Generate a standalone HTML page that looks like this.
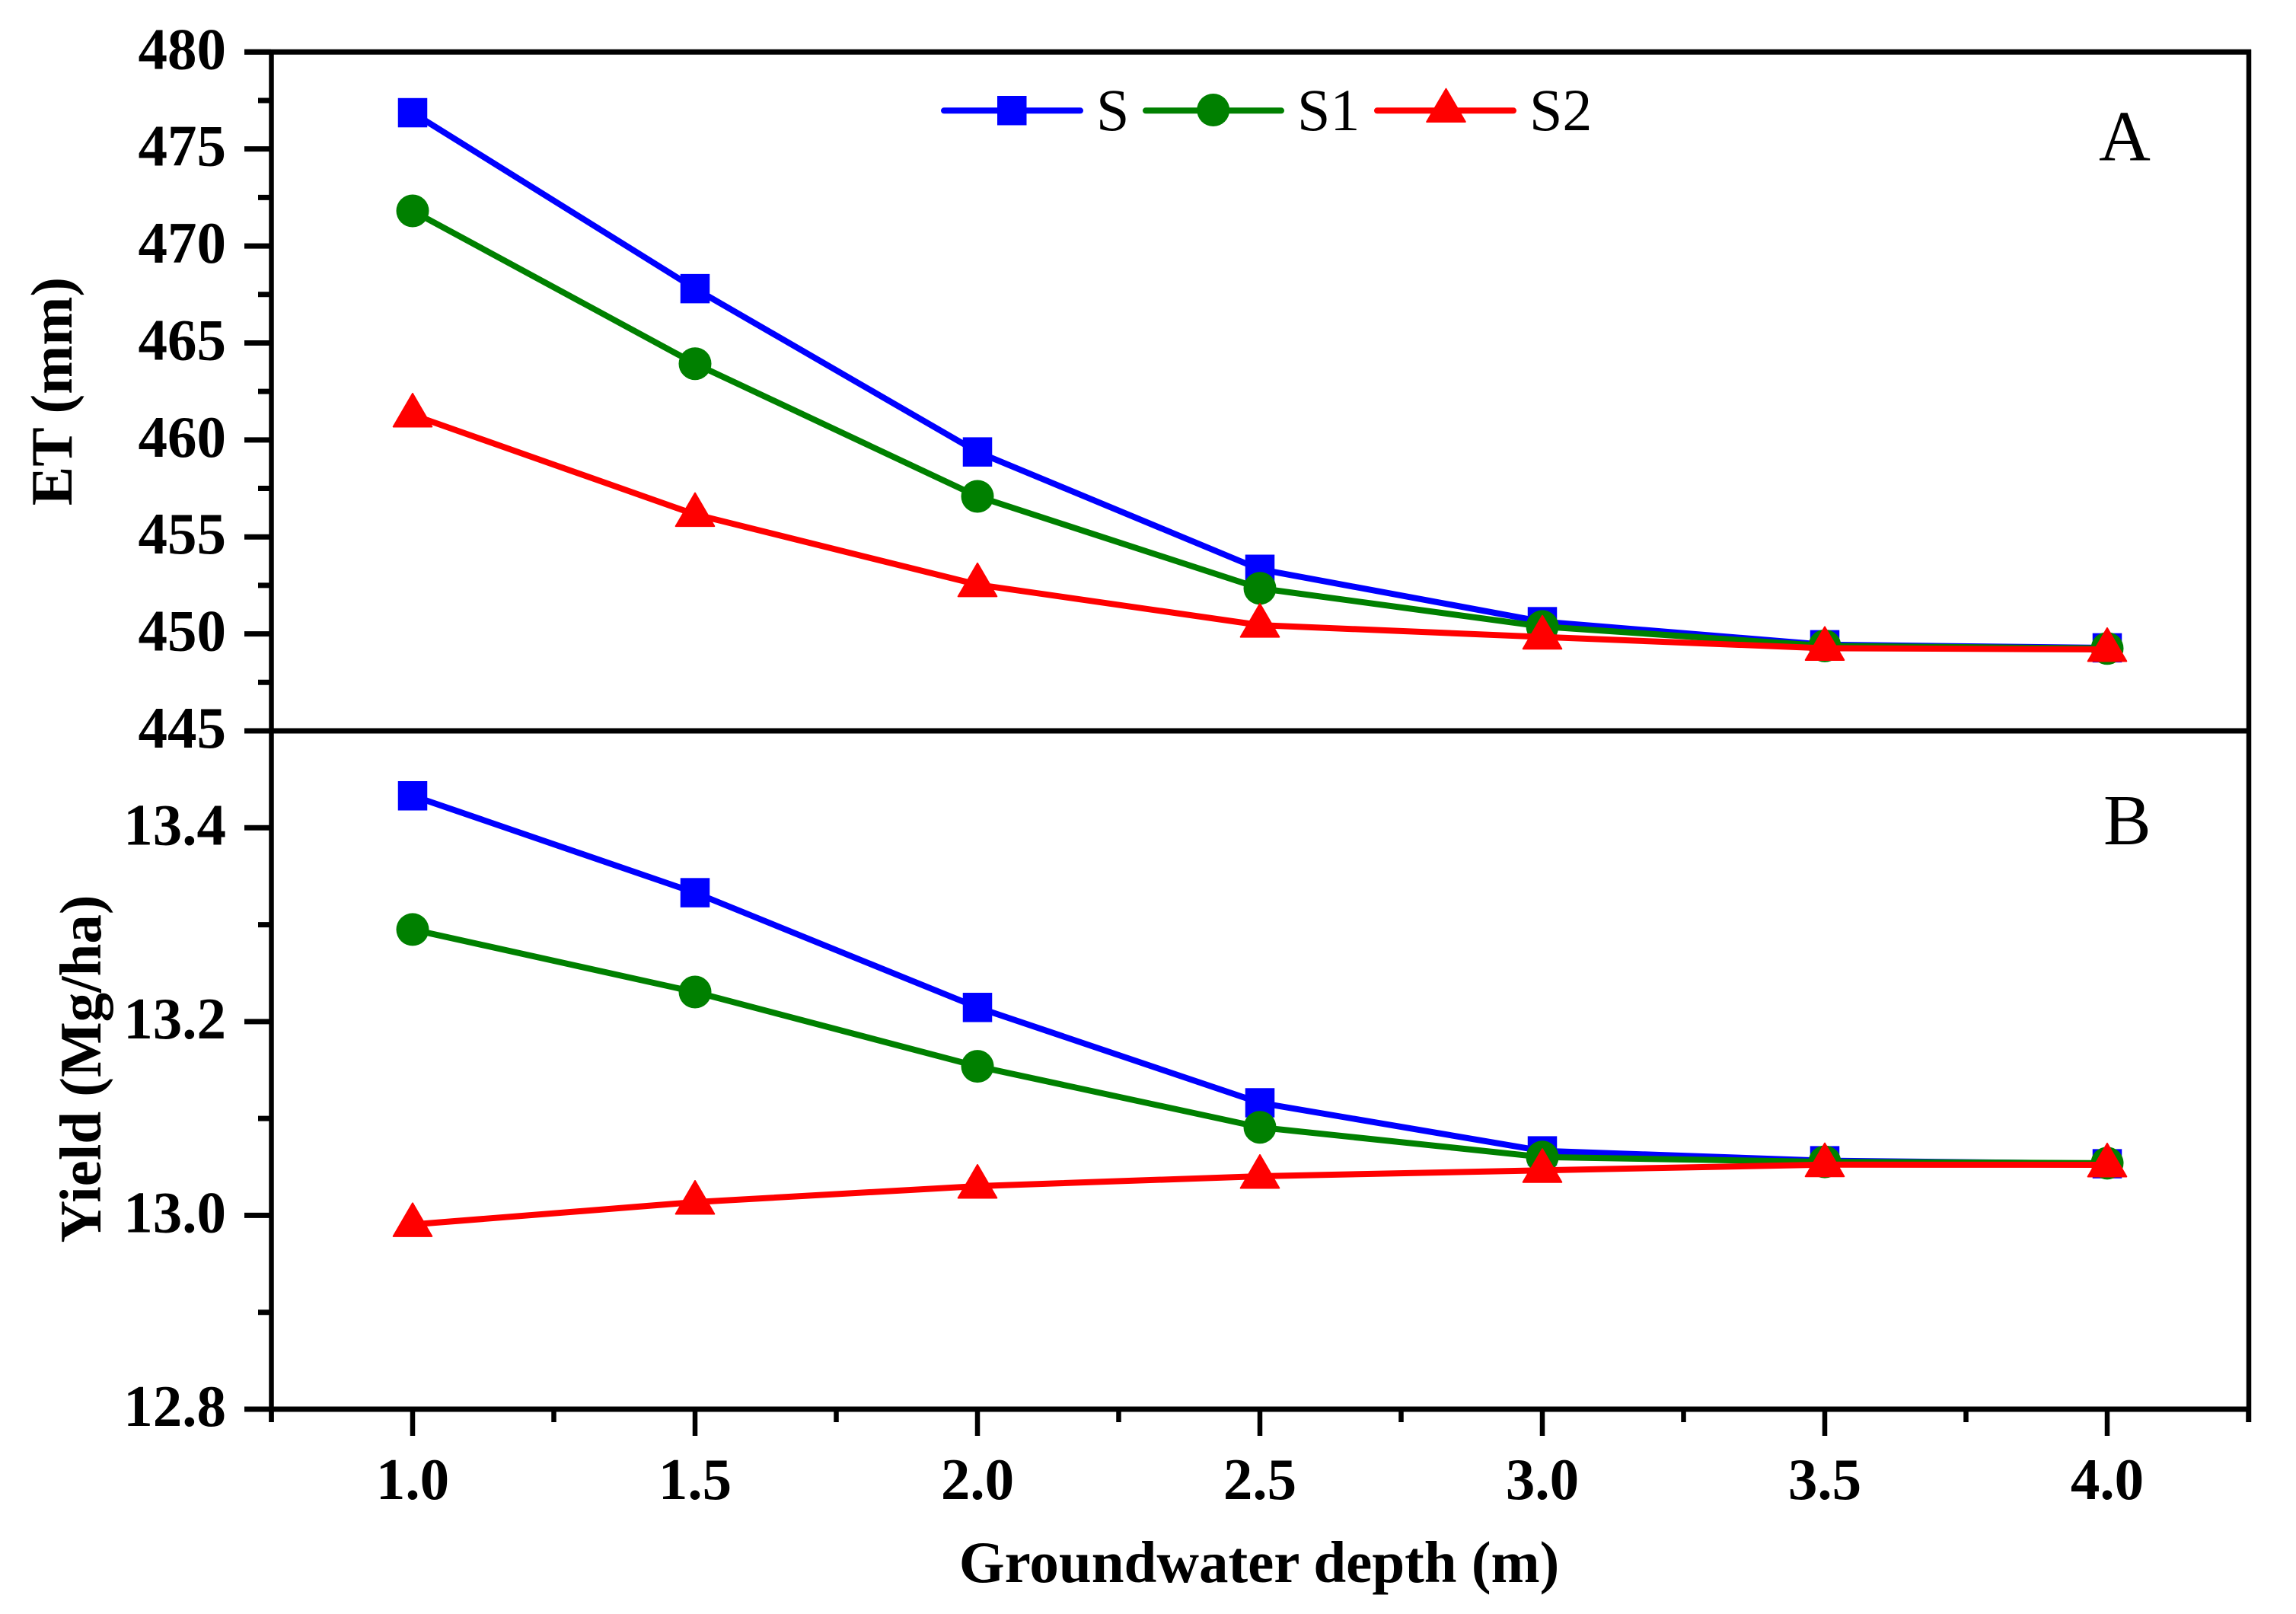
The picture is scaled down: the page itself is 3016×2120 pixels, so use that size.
<!DOCTYPE html>
<html lang="en">
<head>
<meta charset="utf-8">
<title>ET and Yield vs Groundwater depth</title>
<style>
html,body{margin:0;padding:0;background:#fff;}
svg{display:block;}
text{font-family:"Liberation Serif","Times New Roman",serif;fill:#000;}
.b{font-weight:bold;font-size:77px;}
.r{font-size:78px;}
.p{font-size:94px;}
</style>
</head>
<body>
<svg id="chart" xmlns="http://www.w3.org/2000/svg" width="3016" height="2120" viewBox="0 0 3016 2120">
  <rect x="0" y="0" width="3016" height="2120" fill="#ffffff"/>
  <g id="axes"></g>
  <g id="series"></g>
  <text class="b" x="1654" y="2078" text-anchor="middle">Groundwater depth (m)</text>
  <text class="b" transform="translate(94 514) rotate(-90)" text-anchor="middle">ET (mm)</text>
  <text class="b" transform="translate(132 1404) rotate(-90)" text-anchor="middle">Yield (Mg/ha)</text>
  <text class="p" x="2757" y="210.5">A</text>
  <text class="p" x="2763" y="1109">B</text>
  <g id="legend">
    <line x1="1240" y1="145.3" x2="1419" y2="145.3" stroke="#0000ff" stroke-width="8" stroke-linecap="round"/>
    <rect x="1310" y="126" width="38.5" height="38.5" fill="#0000ff"/>
    <text class="r" x="1440" y="171">S</text>
    <line x1="1505" y1="145.3" x2="1683" y2="145.3" stroke="#008000" stroke-width="8" stroke-linecap="round"/>
    <circle cx="1593.7" cy="144.5" r="21.5" fill="#008000"/>
    <text class="r" x="1704" y="171">S1</text>
    <line x1="1809" y1="145.3" x2="1988" y2="145.3" stroke="#ff0000" stroke-width="8" stroke-linecap="round"/>
    <polygon points="1899.5,116.7 1874.2,160 1924.8,160" fill="#ff0000" stroke="#ff0000" stroke-width="2" stroke-linejoin="round"/>
    <text class="r" x="2009" y="171">S2</text>
  </g>
</svg>
<script>
var depths = [1.0, 1.5, 2.0, 2.5, 3.0, 3.5, 4.0];
var etS  = [476.87, 467.80, 459.38, 453.33, 450.63, 449.44, 449.28];
var etS1 = [471.81, 463.93, 457.09, 452.35, 450.38, 449.38, 449.25];
var etS2 = [461.29, 456.16, 452.54, 450.45, 449.84, 449.26, 449.20];
var yieldS  = [13.433, 13.333, 13.2146, 13.1162, 13.0666, 13.0564, 13.0533];
var yieldS1 = [13.295, 13.2305, 13.1538, 13.0909, 13.0602, 13.0552, 13.0539];
var yieldS2 = [12.9906, 13.0137, 13.0302, 13.0404, 13.0465, 13.0524, 13.0522];
var xMajorTicks = [1.0, 1.5, 2.0, 2.5, 3.0, 3.5, 4.0];
var xMajorLabels = ["1.0", "1.5", "2.0", "2.5", "3.0", "3.5", "4.0"];
var xMinorTicks = [0.75, 1.25, 1.75, 2.25, 2.75, 3.25, 3.75, 4.25];
var etMajorTicks = [480, 475, 470, 465, 460, 455, 450, 445];
var etMajorLabels = ["480", "475", "470", "465", "460", "455", "450", "445"];
var etMinorTicks = [477.5, 472.5, 467.5, 462.5, 457.5, 452.5, 447.5];
var yieldMajorTicks = [13.4, 13.2, 13.0, 12.8];
var yieldMajorLabels = ["13.4", "13.2", "13.0", "12.8"];
var yieldMinorTicks = [13.3, 13.1, 12.9];

function xScale(v) { return 542 + (v - 1) * 742; }
function yEt(v) { return 68.3 + (480 - v) * (960 - 68.3) / 35; }
function yYield(v) { return 1851 - (v - 12.8) * (1851 - 960) / 0.7; }

var NS = "http://www.w3.org/2000/svg";
var axesGroup = document.getElementById("axes");
var seriesGroup = document.getElementById("series");

function makeLine(parent, x1, y1, x2, y2, width, color) {
  var el = document.createElementNS(NS, "line");
  el.setAttribute("x1", x1);
  el.setAttribute("y1", y1);
  el.setAttribute("x2", x2);
  el.setAttribute("y2", y2);
  el.setAttribute("stroke", color);
  el.setAttribute("stroke-width", width);
  parent.appendChild(el);
  return el;
}
function makeLabel(parent, x, y, anchor, str) {
  var el = document.createElementNS(NS, "text");
  el.setAttribute("class", "b");
  el.setAttribute("x", x);
  el.setAttribute("y", y);
  el.setAttribute("text-anchor", anchor);
  el.textContent = str;
  parent.appendChild(el);
  return el;
}

var frame = [
  ["top-spine", 321, yEt(480), 2957, yEt(480), 7],
  ["panel-divider", 321, yEt(445), 2957, yEt(445), 7],
  ["bottom-spine", 321, yYield(12.8), 2957, yYield(12.8), 7],
  ["left-spine", 356.5, 65, 356.5, 1868, 6.5],
  ["right-spine", 2954, 65, 2954, 1868, 6.5]
];
frame.forEach(function (f) {
  var el = makeLine(axesGroup, f[1], f[2], f[3], f[4], f[5], "#000");
  
  
});

function drawYAxis(ticks, labels, minors, scale, prefix) {
  ticks.forEach(function (t, i) {
    var y = scale(t);
    var tick = makeLine(axesGroup, 321, y, 356, y, 7, "#000");
    
    
    var lab = makeLabel(axesGroup, 297, y + 22, "end", labels[i]);
    
    
  });
  minors.forEach(function (t) {
    var y = scale(t);
    var tick = makeLine(axesGroup, 339, y, 356, y, 7, "#000");
    
    
  });
}
drawYAxis(etMajorTicks, etMajorLabels, etMinorTicks, yEt, "et-axis");
drawYAxis(yieldMajorTicks, yieldMajorLabels, yieldMinorTicks, yYield, "yield-axis");

xMajorTicks.forEach(function (t, i) {
  var x = xScale(t);
  var tick = makeLine(axesGroup, x, 1851, x, 1886, 6.5, "#000");
  
  
  var lab = makeLabel(axesGroup, x, 1969, "middle", xMajorLabels[i]);
  
  
});
xMinorTicks.forEach(function (t) {
  var x = xScale(t);
  var tick = makeLine(axesGroup, x, 1851, x, 1868, 6.5, "#000");
  
  
});

function drawMarker(kind, cx, cy, color, parent) {
  var el;
  if (kind === "square") {
    el = document.createElementNS(NS, "rect");
    el.setAttribute("x", cx - 19.25);
    el.setAttribute("y", cy - 19.25);
    el.setAttribute("width", 38.5);
    el.setAttribute("height", 38.5);
    el.setAttribute("fill", color);
  } else if (kind === "circle") {
    el = document.createElementNS(NS, "circle");
    el.setAttribute("cx", cx);
    el.setAttribute("cy", cy);
    el.setAttribute("r", 21.5);
    el.setAttribute("fill", color);
  } else {
    el = document.createElementNS(NS, "polygon");
    el.setAttribute("points", cx + "," + (cy - 28) + " " + (cx - 25.3) + "," + (cy + 15.5) + " " + (cx + 25.3) + "," + (cy + 15.5));
    el.setAttribute("fill", color);
    el.setAttribute("stroke", color);
    el.setAttribute("stroke-width", 2);
    el.setAttribute("stroke-linejoin", "round");
  }
  parent.appendChild(el);
  return el;
}

function drawSeries(values, scale, color, kind, name) {
  var g = document.createElementNS(NS, "g");
  
  
  seriesGroup.appendChild(g);
  var pts = values.map(function (v, i) { return xScale(depths[i]) + "," + scale(v); }).join(" ");
  var line = document.createElementNS(NS, "polyline");
  
  
  line.setAttribute("points", pts);
  line.setAttribute("fill", "none");
  line.setAttribute("stroke", color);
  line.setAttribute("stroke-width", 8);
  line.setAttribute("stroke-linejoin", "round");
  g.appendChild(line);
  values.forEach(function (v, i) {
    var m = drawMarker(kind, xScale(depths[i]), scale(v), color, g);
    
    
  });
}

drawSeries(etS, yEt, "#0000ff", "square", "et-series-s");
drawSeries(etS1, yEt, "#008000", "circle", "et-series-s1");
drawSeries(etS2, yEt, "#ff0000", "triangle", "et-series-s2");
drawSeries(yieldS, yYield, "#0000ff", "square", "yield-series-s");
drawSeries(yieldS1, yYield, "#008000", "circle", "yield-series-s1");
drawSeries(yieldS2, yYield, "#ff0000", "triangle", "yield-series-s2");
</script>
</body>
</html>
